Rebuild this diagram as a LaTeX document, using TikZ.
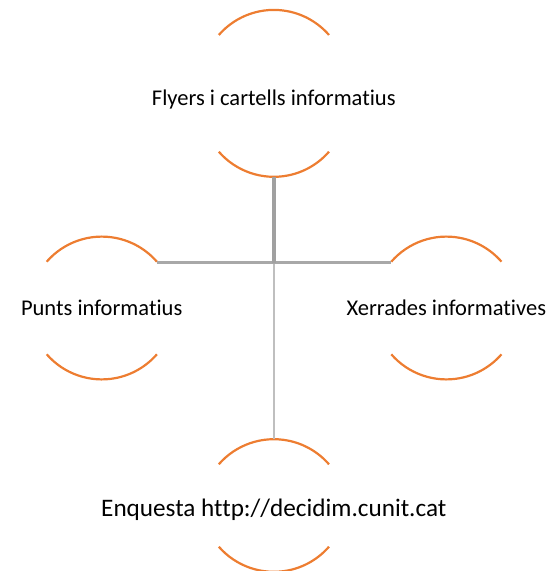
\documentclass[tikz,border=0pt]{standalone}
\usepackage{fontspec}
\setmainfont{Carlito}[Ligatures={NoCommon}]
\definecolor{arcorange}{HTML}{ED7D31}
\definecolor{linedark}{HTML}{A0A0A0}
\definecolor{linemid}{HTML}{A8A8A8}
\definecolor{linelight}{HTML}{BFBFBF}
\begin{document}
\begin{tikzpicture}[x=1pt,y=-1pt,
  arcline/.style={draw=arcorange,line width=2.2pt},
  lbl/.style={font=\fontsize{22.5}{27}\selectfont, text=black, anchor=base, inner sep=0pt},
  lblbig/.style={lbl, font=\fontsize{25.2}{30}\selectfont},
  connup/.style={draw=linedark,line width=3.4pt},
  connhor/.style={draw=linemid,line width=2.7pt},
  conndown/.style={draw=linelight,line width=2.5pt}]
\useasboundingbox (0,0) rectangle (555,571);
% text nodes
\node[lbl] (top) at (273.8,105) {Flyers i cartells informatius};
\node[lbl] (left) at (101.7,315.5) {Punts informatius};
\node[lbl] (right) at (446.3,315.5) {Xerrades informatives};
\node[lblbig] (bottom) at (273.8,516.7) {Enquesta http://decidim.cunit.cat};
% arc outlines
\draw[arcline] (218.8,35) arc[start angle=221,end angle=319,radius=73];
\draw[arcline] (218.8,151.7) arc[start angle=139,end angle=41,radius=73];
\draw[arcline] (46.7,261.7) arc[start angle=221,end angle=319,radius=73];
\draw[arcline] (46.7,354.3) arc[start angle=139,end angle=41,radius=73];
\draw[arcline] (391.3,261.7) arc[start angle=221,end angle=319,radius=73];
\draw[arcline] (391.3,354.3) arc[start angle=139,end angle=41,radius=73];
\draw[arcline] (218.8,464.3) arc[start angle=221,end angle=319,radius=73];
\draw[arcline] (218.8,546.7) arc[start angle=139,end angle=41,radius=73];
% connector points
\coordinate (topB) at (273.8,176.7);
\coordinate (botT) at (273.8,439.3);
\coordinate (leftE) at (156.7,262.6);
\coordinate (rightE) at (391.3,262.6);
\coordinate (junc) at (273.8,262.6);
% connectors
\draw[conndown] (junc) -- (botT);
\draw[connhor] (leftE) -- (rightE);
\draw[connup] (topB) -- (junc);
\end{tikzpicture}
\end{document}
